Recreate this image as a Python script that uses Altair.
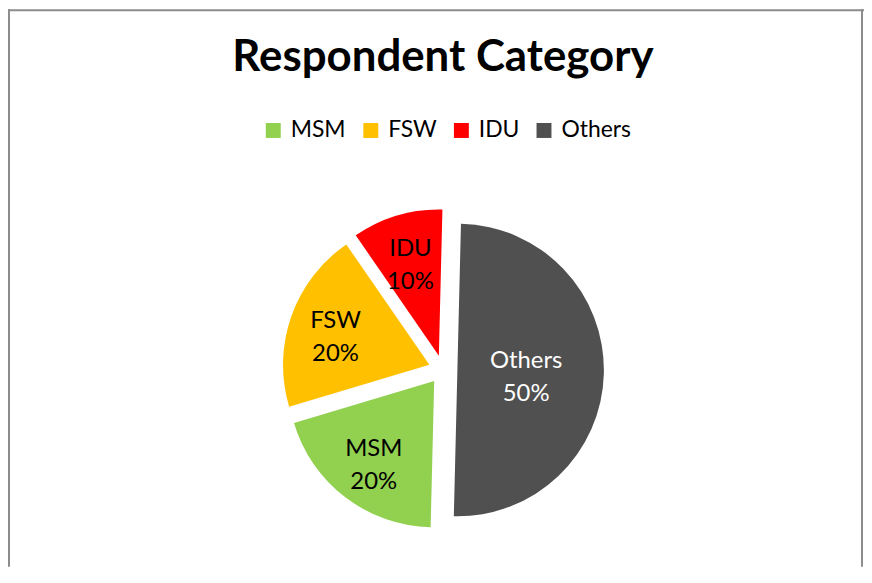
import math
import altair as alt
import pandas as pd

# ---- data ----
categories = ["MSM", "FSW", "IDU", "Others"]
values = [20, 20, 10, 50]
colors = ["#92D050", "#FFC000", "#FF0000", "#505050"]
label_colors = ["#000000", "#000000", "#000000", "#FFFFFF"]
title_text = "Respondent Category"

# ---- layout constants ----
W, H = 860, 560
CX, CY = 437, 362
R = 147
EXPLODE = 14.5
START = math.radians(181.4)
FONT = "Lato"

df = pd.DataFrame({
    "idx": list(range(len(categories))),
    "cat": categories,
    "value": values,
    "tc": label_colors,
})

base = alt.Chart(df).transform_window(
    cum="sum(value)", sort=[alt.SortField("idx")], frame=[None, 0]
).transform_joinaggregate(
    total="sum(value)"
).transform_calculate(
    t0=f"{START} + 2*PI*(datum.cum - datum.value)/datum.total",
    t1=f"{START} + 2*PI*datum.cum/datum.total",
).transform_calculate(
    mid="(datum.t0 + datum.t1)/2",
).transform_calculate(
    ex=f"{CX} + {EXPLODE}*sin(datum.mid)",
    ey=f"{CY} - {EXPLODE}*cos(datum.mid)",
    lk="datum.value/datum.total >= 0.4 ? 0.47 : 0.68",
    lbl="datum.cat + '\\n' + round(100*datum.value/datum.total) + '%'",
).transform_calculate(
    lx=f"datum.ex + datum.lk*{R}*sin(datum.mid)",
    ly=f"datum.ey - datum.lk*{R}*cos(datum.mid)",
)

arcs = base.mark_arc(outerRadius=R, strokeWidth=0).encode(
    theta=alt.Theta("t0:Q", scale=None, stack=False),
    theta2="t1:Q",
    x=alt.X("ex:Q", scale=None),
    y=alt.Y("ey:Q", scale=None),
    color=alt.Color(
        "cat:N",
        scale=alt.Scale(domain=categories, range=colors),
        sort=categories,
        legend=alt.Legend(
            orient="none", legendX=255, legendY=110, direction="horizontal",
            title=None, symbolType="square", symbolSize=225, symbolStrokeWidth=0,
            labelFontSize=23, labelFont=FONT, labelColor="#000000",
            columnPadding=13, labelOffset=6,
        ),
    ),
)

labels = base.mark_text(
    lineBreak="\n", fontSize=24, font=FONT, align="center", baseline="middle",
    lineHeight=33, dy=-11,
).encode(
    x=alt.X("lx:Q", scale=None),
    y=alt.Y("ly:Q", scale=None),
    text="lbl:N",
    color=alt.Color("tc:N", scale=None),
)

title = alt.Chart(pd.DataFrame({"t": [title_text]})).mark_text(
    fontSize=44, fontWeight="bold", font=FONT, align="center",
    baseline="alphabetic", color="#000000",
).encode(x=alt.value(CX), y=alt.value(62), text="t:N")

one = pd.DataFrame({"k": [0]})
border_color = "#8C8C8C"
left = alt.Chart(one).mark_rule(color=border_color, strokeWidth=2).encode(
    x=alt.value(1), y=alt.value(0), y2=alt.value(H))
top = alt.Chart(one).mark_rule(color=border_color, strokeWidth=2).encode(
    x=alt.value(0), x2=alt.value(W), y=alt.value(1))
right = alt.Chart(one).mark_rule(color=border_color, strokeWidth=2).encode(
    x=alt.value(W - 2), y=alt.value(0), y2=alt.value(H))

chart = alt.layer(arcs, labels, title, left, top, right).properties(
    width=W, height=H, padding=0,
    autosize=alt.AutoSizeParams(type="none"),
).configure_view(strokeWidth=0)

chart.save("out.html", embed_options={"renderer": "svg", "actions": False})
